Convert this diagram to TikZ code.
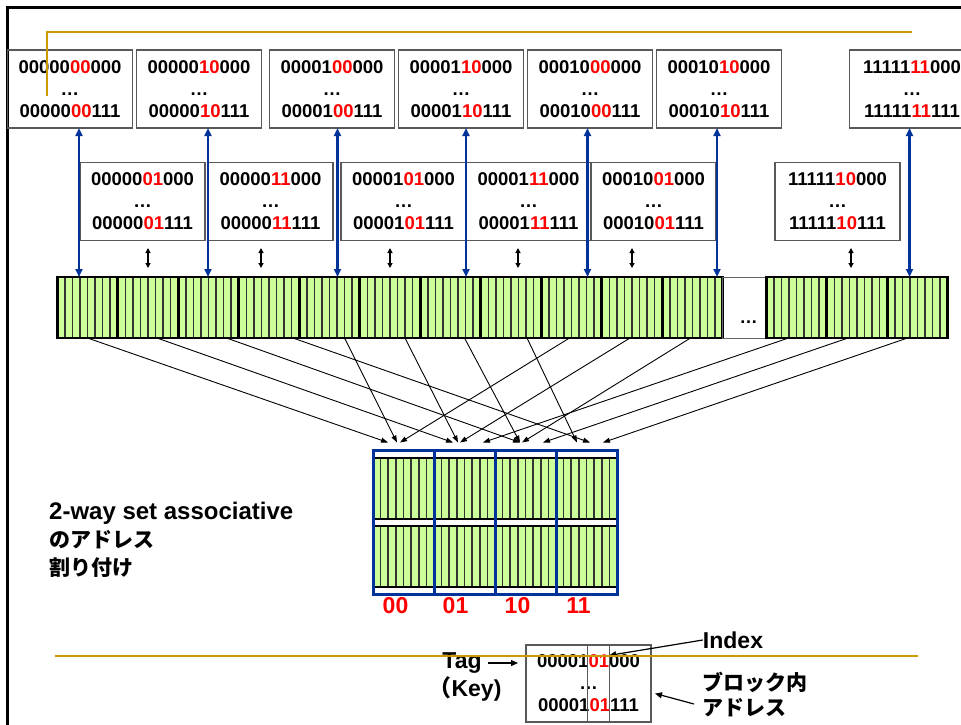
\documentclass[tikz,border=0pt]{standalone}
\usepackage{fontspec}
\setmainfont{Liberation Sans}
\newfontfamily\jp{Noto Sans CJK JP}
\usetikzlibrary{arrows.meta, positioning, calc, fit}

\definecolor{blkgreen}{RGB}{204,255,153}
\definecolor{setblue}{RGB}{0,51,153}
\definecolor{gold}{RGB}{204,153,0}
\newcommand{\hl}[1]{\textcolor{red}{#1}}

\begin{document}
\begin{tikzpicture}[x=1pt, y=-1pt, node distance=0pt,
    addrbox/.style={draw=black!65, line width=1.2pt, minimum width=125pt, minimum height=78pt, inner sep=0pt, outer sep=0pt, align=center, font=\bfseries\fontsize{18.5}{22}\selectfont},
    stripe/.style={draw=black!80, line width=1.6pt},
    blk/.style={draw=black, line width=2.6pt, fill=blkgreen, minimum width=60.5pt, minimum height=61pt, inner sep=0pt, outer sep=0pt,
      path picture={\foreach \k in {1,...,7} \draw[stripe] ($(path picture bounding box.north west)!\k/8!(path picture bounding box.north east)$) -- ($(path picture bounding box.south west)!\k/8!(path picture bounding box.south east)$);}},
    cblk/.style={blk, minimum width=61pt},
    gapbox/.style={draw=black!60, line width=1pt, minimum width=43.5pt, minimum height=61pt, inner sep=0pt, outer sep=0pt},
    setcol/.style={draw=setblue, line width=3pt, inner xsep=0pt, inner ysep=7.5pt, outer sep=0pt},
    setlbl/.style={text=red, inner sep=0pt, font=\bfseries\fontsize{23}{28}\selectfont},
    lbl/.style={inner sep=0pt, font=\bfseries\fontsize{23}{28}\selectfont},
    jplbl/.style={inner sep=0pt, align=left, font=\jp\bfseries\fontsize{21}{25}\selectfont},
    bus/.style={draw=setblue, line width=2.4pt, >={Triangle[length=8pt,width=7pt]}, <->},
    dbl/.style={line width=1.2pt, >={Triangle[length=5pt,width=5pt]}, <->},
    maparr/.style={line width=0.9pt, >={Triangle[length=7pt,width=5pt]}, ->},
    ptr/.style={line width=1.2pt, >={Triangle[length=7pt,width=6pt]}, ->}]

  \useasboundingbox (0,0) rectangle (961,724);

  % slide frame
  \draw[line width=3pt] (7,740) -- (7,7) -- (980,7);

  % main memory blocks
  \node[blk] (m0) at (87.5,307.5) {};
  \node[blk, right=0pt of m0] (m1) {};
  \node[blk, right=0pt of m1] (m2) {};
  \node[blk, right=0pt of m2] (m3) {};
  \node[blk, right=0pt of m3] (m4) {};
  \node[blk, right=0pt of m4] (m5) {};
  \node[blk, right=0pt of m5] (m6) {};
  \node[blk, right=0pt of m6] (m7) {};
  \node[blk, right=0pt of m7] (m8) {};
  \node[blk, right=0pt of m8] (m9) {};
  \node[blk, right=0pt of m9] (m10) {};
  \node[gapbox, right=0pt of m10] (gap) {};
  \node[blk, right=0pt of gap] (m253) {};
  \node[blk, right=0pt of m253] (m254) {};
  \node[blk, right=0pt of m254] (m255) {};
  \node[font=\bfseries\fontsize{18}{22}\selectfont, inner sep=0pt] (gapdots) at ($(gap.center)+(4,15)$) {…};

  % address ranges, upper row
  \node[addrbox] (a0) at (70,89) {00000\hl{00}000\\…\\00000\hl{00}111};
  \node[addrbox, right=4pt of a0] (a2) {00000\hl{10}000\\…\\00000\hl{10}111};
  \node[addrbox, right=8pt of a2] (a4) {00001\hl{00}000\\…\\00001\hl{00}111};
  \node[addrbox, right=4pt of a4] (a6) {00001\hl{10}000\\…\\00001\hl{10}111};
  \node[addrbox, right=4pt of a6] (a8) {00010\hl{00}000\\…\\00010\hl{00}111};
  \node[addrbox, right=4pt of a8] (a10) {00010\hl{10}000\\…\\00010\hl{10}111};
  \node[addrbox, right=68pt of a10] (a255) {11111\hl{11}000\\…\\11111\hl{11}111};

  % address ranges, lower row
  \node[addrbox] (a1) at (142.5,201.5) {00000\hl{01}000\\…\\00000\hl{01}111};
  \node[addrbox, right=3pt of a1] (a3) {00000\hl{11}000\\…\\00000\hl{11}111};
  \node[addrbox, right=8pt of a3] (a5) {00001\hl{01}000\\…\\00001\hl{01}111};
  \node[addrbox, right=0pt of a5] (a7) {00001\hl{11}000\\…\\00001\hl{11}111};
  \node[addrbox, right=0pt of a7] (a9) {00010\hl{01}000\\…\\00010\hl{01}111};
  \node[addrbox, right=59pt of a9] (a254) {11111\hl{10}000\\…\\11111\hl{10}111};

  \draw[bus] ([xshift=9pt]a0.south) -- ([xshift=9pt]a0.south |- m0.north);
  \draw[bus] ([xshift=9pt]a2.south) -- ([xshift=9pt]a2.south |- m2.north);
  \draw[bus] ([xshift=5.5pt]a4.south) -- ([xshift=5.5pt]a4.south |- m4.north);
  \draw[bus] ([xshift=5pt]a6.south) -- ([xshift=5pt]a6.south |- m6.north);
  \draw[bus] ([xshift=-2.5pt]a8.south) -- ([xshift=-2.5pt]a8.south |- m8.north);
  \draw[bus] ([xshift=-2pt]a10.south) -- ([xshift=-2pt]a10.south |- m10.north);
  \draw[bus] ([xshift=-2.5pt]a255.south) -- ([xshift=-2.5pt]a255.south |- m255.north);

  \draw[dbl] ($(m1.north)+(0,-9)$) -- ($(m1.north)+(0,-29)$);
  \draw[dbl] ($(m3.north)+(-8,-9)$) -- ($(m3.north)+(-8,-29)$);
  \draw[dbl] ($(m5.north)+(0,-9)$) -- ($(m5.north)+(0,-29)$);
  \draw[dbl] ($(m7.north)+(7,-9)$) -- ($(m7.north)+(7,-29)$);
  \draw[dbl] ($(m9.north)+(0,-9)$) -- ($(m9.north)+(0,-29)$);
  \draw[dbl] ($(m254.north)+(-6,-9)$) -- ($(m254.north)+(-6,-29)$);

  % cache: 4 sets x 2 ways
  \node[cblk] (c0) at (403.5,488.5) {};
  \node[cblk, right=0pt of c0] (c1) {};
  \node[cblk, right=0pt of c1] (c2) {};
  \node[cblk, right=0pt of c2] (c3) {};
  \node[cblk, below=7pt of c0] (d0) {};
  \node[cblk, right=0pt of d0] (d1) {};
  \node[cblk, right=0pt of d1] (d2) {};
  \node[cblk, right=0pt of d2] (d3) {};
  \node[setcol, fit=(c0)(d0)] (s0) {};
  \node[setcol, fit=(c1)(d1)] (s1) {};
  \node[setcol, fit=(c2)(d2)] (s2) {};
  \node[setcol, fit=(c3)(d3)] (s3) {};
  \node[setlbl, below=3pt of s0, xshift=-8pt] (l0) {00};
  \node[setlbl, below=3pt of s1, xshift=-9pt] (l1) {01};
  \node[setlbl, below=3pt of s2, xshift=-8pt] (l2) {10};
  \node[setlbl, below=3pt of s3, xshift=-8pt] (l3) {11};

  % block -> set
  \draw[maparr] (m0.south) -- ($(s0.north west)+(15,-8)$);
  \draw[maparr] ($(m1.south)+(9,0)$) -- ($(s1.north west)+(19,-8)$);
  \draw[maparr] ($(m2.south)+(18,0)$) -- ($(s2.north west)+(25,-8)$);
  \draw[maparr] ($(m3.south)+(24,0)$) -- ($(s3.north west)+(34,-8)$);
  \draw[maparr] ($(m4.south)+(15,0)$) -- ($(s0.north west)+(24,-8)$);
  \draw[maparr] ($(m5.south)+(15,0)$) -- ($(s1.north west)+(24,-8)$);
  \draw[maparr] ($(m6.south)+(14,0)$) -- ($(s2.north west)+(25,-8)$);
  \draw[maparr] ($(m7.south)+(16,0)$) -- ($(s3.north west)+(21,-8)$);
  \draw[maparr] ($(m8.south)+(-2,0)$) -- ($(s0.north west)+(27,-8)$);
  \draw[maparr] ($(m9.south)+(-2,0)$) -- ($(s1.north west)+(26,-8)$);
  \draw[maparr] ($(m10.south)+(-2,0)$) -- ($(s2.north west)+(27,-8)$);
  \draw[maparr] ($(m253.south)+(-8,0)$) -- ($(s1.north west)+(49,-8)$);
  \draw[maparr] ($(m254.south)+(-9,0)$) -- ($(s2.north west)+(48,-8)$);
  \draw[maparr] ($(m255.south)+(-10,0)$) -- ($(s3.north west)+(47,-8)$);

  \node[lbl, align=left, anchor=west, font=\bfseries\fontsize{24}{28}\selectfont] (title) at (49,540) {2-way set associative\\{\jp\fontsize{21}{28}\selectfont のアドレス}\\{\jp\fontsize{21}{28}\selectfont 割り付け}};

  % address split
  \node[addrbox, minimum height=77pt] (addr) at (588.5,683.5) {00001\hl{01}000\\…\\00001\hl{01}111};
  \node[draw=black!65, line width=1.2pt, minimum width=22pt, minimum height=77pt, inner sep=0pt] (idx) at ([xshift=10pt]addr.center) {};
  \node[lbl] (tag) at (462,663) {Tag};
  \node[lbl, below=3pt of tag, xshift=3pt] (key) {{\jp （}Key)};
  \node[lbl] (index) at (733,640) {Index};
  \node[jplbl, anchor=west] (inblk) at (702,695) {ブロック内\\アドレス};
  \draw[ptr] ([xshift=6pt]tag.east) -- ([xshift=-8pt]tag.east -| addr.west);
  \draw[ptr] (index.west) -- ($(idx.north east)+(-1,11)$);
  \draw[ptr] ($(inblk.west)+(-8,9)$) -- ($(addr.east)+(4,10)$);

  % title rules
  \draw[gold, line width=2pt] (47,96) -- (47,32) -- (912,32);
  \draw[gold, line width=2pt] (55,656) -- (918,656);
\end{tikzpicture}
\end{document}
